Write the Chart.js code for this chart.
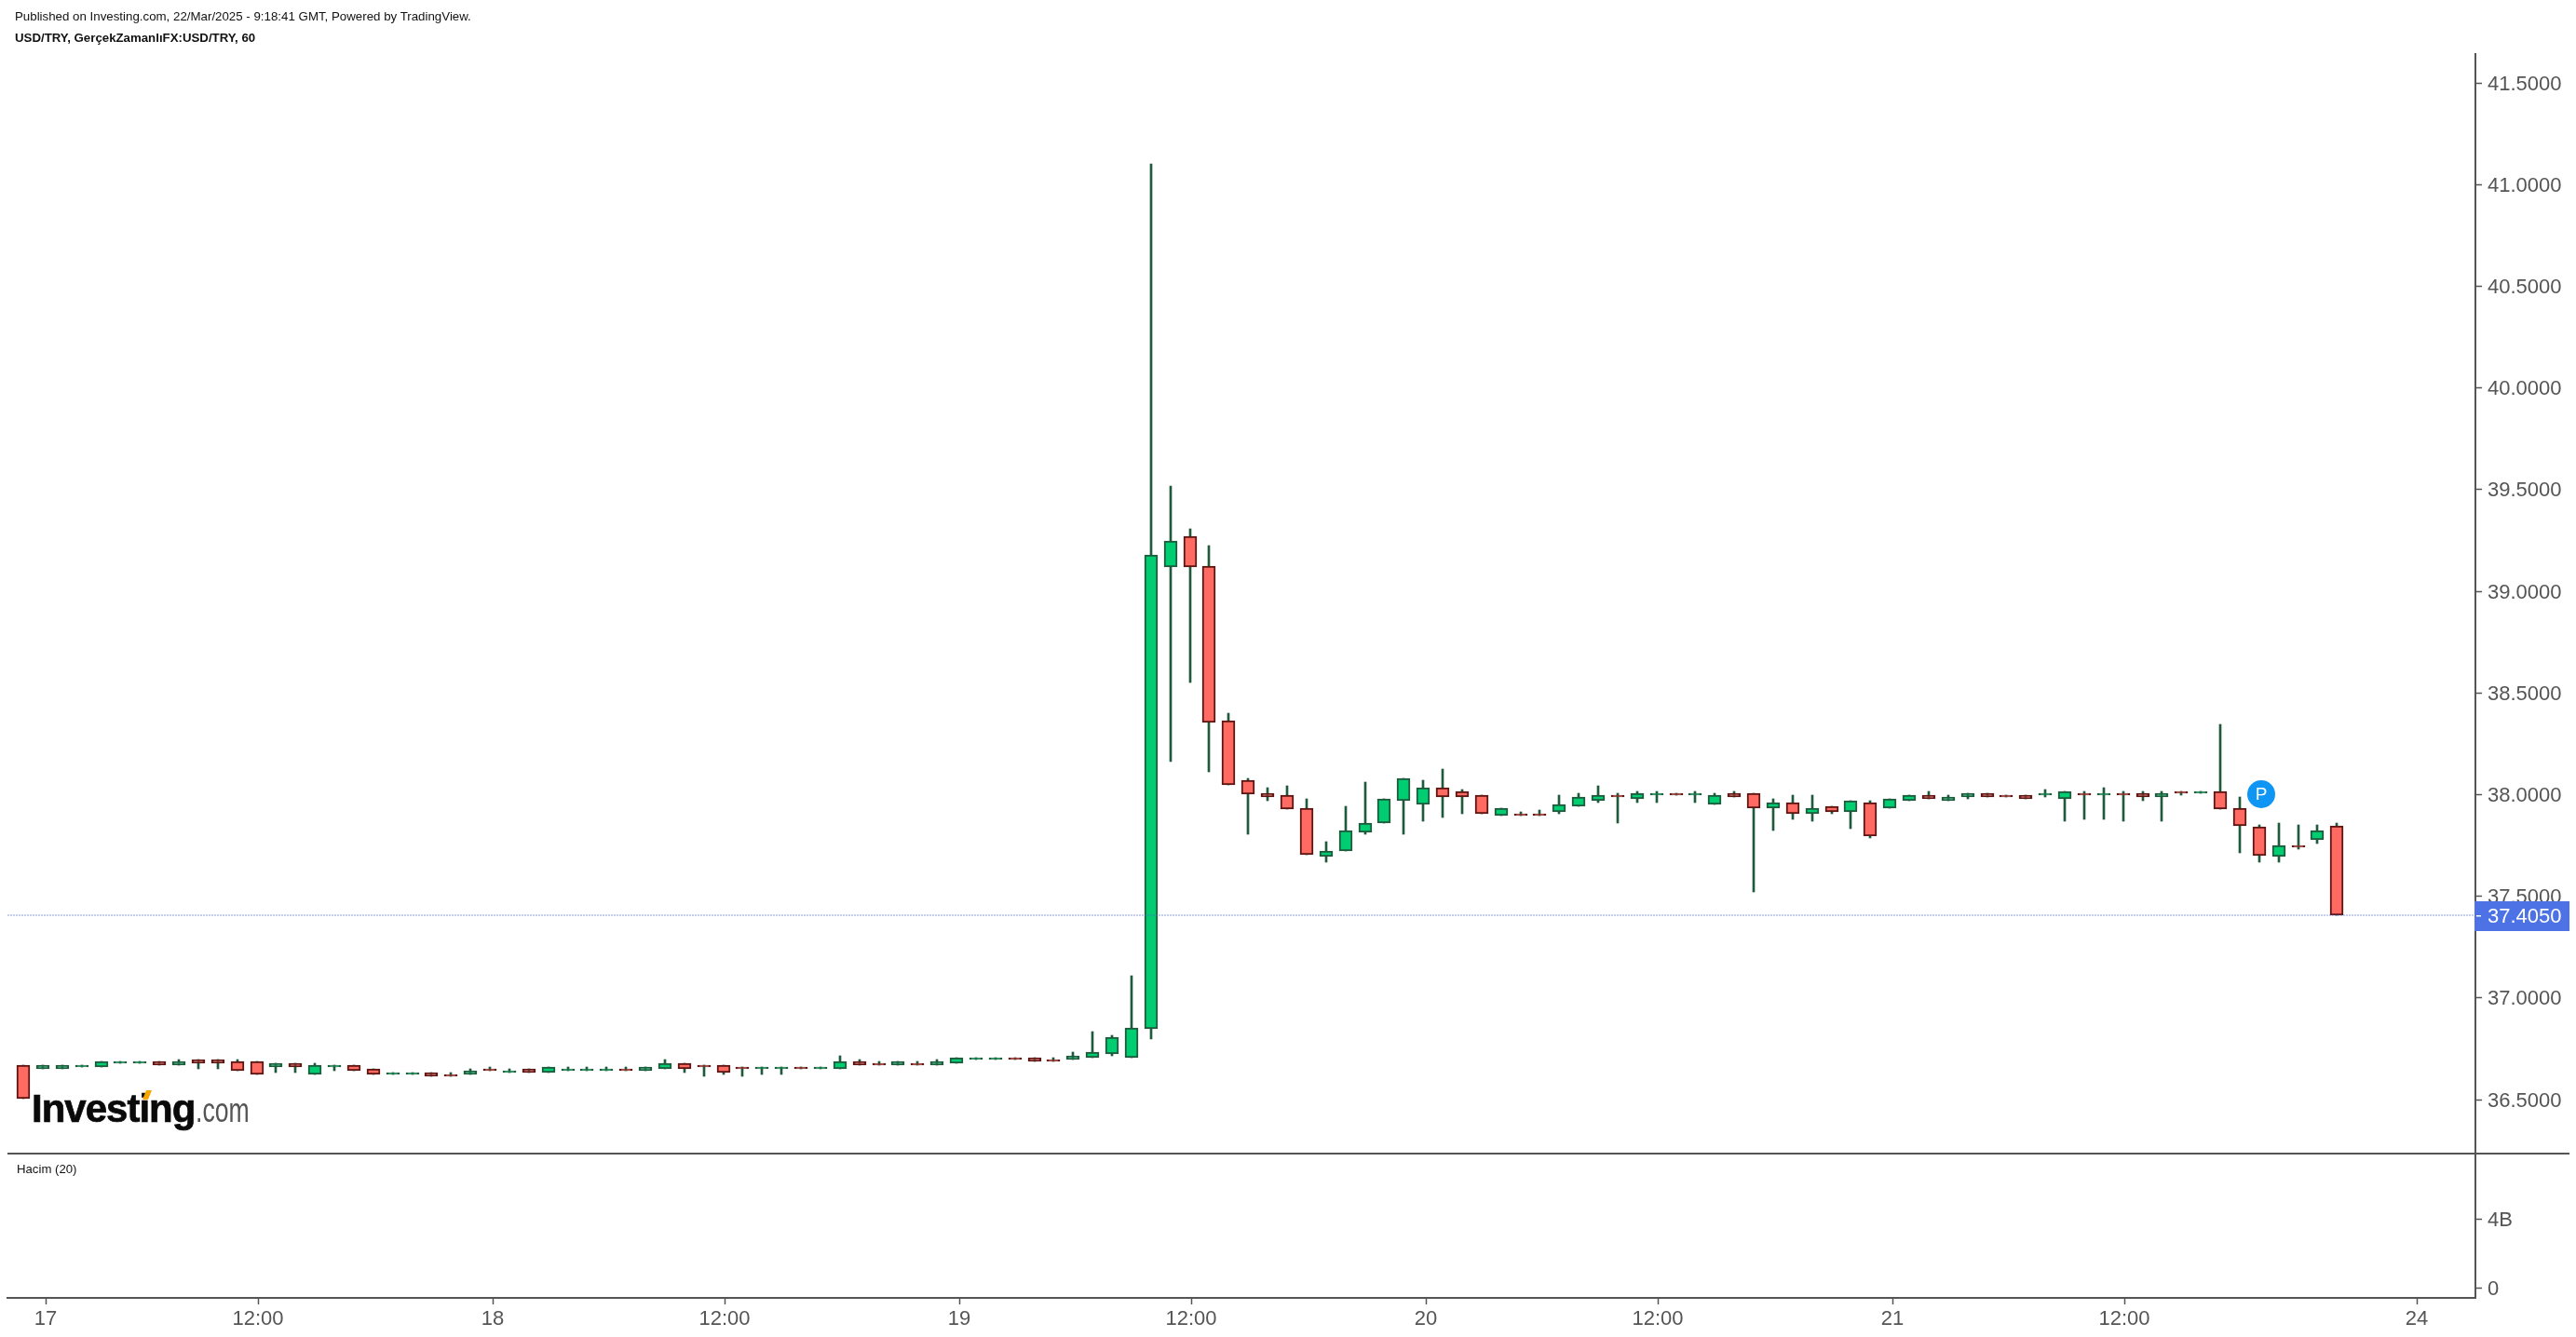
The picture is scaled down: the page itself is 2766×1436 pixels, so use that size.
<!DOCTYPE html>
<html>
<head>
<meta charset="utf-8">
<title>USD/TRY</title>
<script src="https://cdn.jsdelivr.net/npm/chart.js@4/dist/chart.umd.min.js"></script>
<style>
  html, body { margin: 0; padding: 0; background: #fff; }
  body { width: 2766px; height: 1436px; position: relative; overflow: hidden; font-family: "Liberation Sans", Arial, sans-serif; }
  #price-chart { position: absolute; left: 0; top: 0; }
  .note { position: absolute; white-space: nowrap; color: #111; }
  #published { left: 16px; top: 10px; font-size: 13.3px; line-height: 15px; }
  #symbol { left: 16px; top: 33px; font-size: 13.25px; line-height: 15px; font-weight: bold; }
  #hacim { left: 18px; top: 1248px; font-size: 13.2px; line-height: 15px; }
  #logo { position: absolute; left: 34px; top: 1166px; height: 50px; line-height: 50px; white-space: nowrap; filter: blur(0.6px); }
  #logo b { font-size: 42px; letter-spacing: -1px; color: #0a0a0a; -webkit-text-stroke: 0.7px #0a0a0a; }
  #logo span { display: inline-block; font-size: 36px; color: #555; transform: scaleX(0.74); transform-origin: left center; margin-left: 1px; }
  #spark { position: absolute; left: 155px; top: 1171px; width: 6px; height: 10px; background: #f7a400; transform: skewX(-22deg); filter: blur(0.5px); }
</style>
</head>
<body>
<canvas id="price-chart" width="2766" height="1436"></canvas>
<div class="note" id="published">Published on Investing.com, 22/Mar/2025 - 9:18:41 GMT, Powered by TradingView.</div>
<div class="note" id="symbol">USD/TRY, GerçekZamanlıFX:USD/TRY, 60</div>
<div class="note" id="hacim">Hacim (20)</div>
<div id="logo"><b>Investing</b><span>.com</span></div>
<div id="spark"></div>

<script>
"use strict";

// hourly candles
const opens = [
  36.6676,36.6493,36.6493,36.6584,36.6584,36.6767,36.6767,36.6859,36.6676,36.6951,
  36.6951,36.6859,36.6859,36.6584,36.6767,36.6218,36.6584,36.6676,36.6493,36.6218,
  36.6218,36.6310,36.6218,36.6218,36.6493,36.6310,36.6493,36.6310,36.6401,36.6401,
  36.6401,36.6493,36.6401,36.6493,36.6767,36.6676,36.6676,36.6584,36.6493,36.6493,
  36.6584,36.6493,36.6493,36.6859,36.6767,36.6676,36.6767,36.6676,36.6767,36.6951,
  36.6951,36.7042,36.7042,36.6951,36.6951,36.7042,36.7225,36.7042,36.8462,39.1172,
  39.2683,39.1218,38.3617,38.0687,38.0046,37.9954,37.9313,37.6932,37.7207,37.8123,
  37.8581,37.9679,37.9496,38.0321,38.0137,37.9954,37.8947,37.9038,37.9038,37.9130,
  37.9405,37.9679,37.9954,37.9771,37.9954,38.0046,37.9954,37.9496,38.0046,38.0046,
  37.9313,37.9588,37.9038,37.9405,37.9130,37.9588,37.9313,37.9679,37.9954,37.9679,
  37.9863,38.0046,37.9954,37.9954,37.9954,37.9771,38.0046,37.9954,38.0046,38.0046,
  37.9863,38.0137,38.0046,38.0137,37.9313,37.8397,37.6932,37.7482,37.7756,37.8443
];
const highs = [
  36.6676,36.6676,36.6676,36.6676,36.6859,36.6859,36.6859,36.6859,36.6951,36.6951,
  36.6951,36.6951,36.6859,36.6767,36.6767,36.6767,36.6676,36.6676,36.6493,36.6310,
  36.6310,36.6310,36.6310,36.6493,36.6584,36.6493,36.6493,36.6584,36.6584,36.6584,
  36.6584,36.6584,36.6584,36.6951,36.6767,36.6676,36.6676,36.6584,36.6584,36.6584,
  36.6584,36.6584,36.7134,36.6951,36.6859,36.6859,36.6859,36.6951,36.7042,36.7042,
  36.7042,36.7042,36.7042,36.7042,36.7317,36.8324,36.8141,37.1071,41.0998,39.5156,
  39.3049,39.2225,38.3984,38.0778,38.0321,38.0412,37.9771,37.7665,37.9405,38.0595,
  37.9771,38.0778,38.0687,38.1236,38.0229,37.9954,37.9313,37.9130,37.9222,37.9954,
  38.0046,38.0412,38.0046,38.0137,38.0137,38.0046,38.0137,38.0046,38.0137,38.0046,
  37.9771,37.9954,37.9954,37.9405,37.9679,37.9679,37.9771,37.9954,38.0137,37.9954,
  38.0046,38.0046,37.9954,37.9954,38.0229,38.0137,38.0137,38.0321,38.0137,38.0137,
  38.0137,38.0137,38.0137,38.3434,37.9863,37.8489,37.8581,37.8489,37.8489,37.8581
];
const lows = [
  36.5027,36.6493,36.6493,36.6584,36.6584,36.6767,36.6767,36.6676,36.6676,36.6493,
  36.6493,36.6401,36.6218,36.6310,36.6310,36.6218,36.6401,36.6401,36.6218,36.6218,
  36.6218,36.6126,36.6126,36.6218,36.6401,36.6310,36.6310,36.6310,36.6401,36.6401,
  36.6401,36.6401,36.6401,36.6493,36.6310,36.6126,36.6218,36.6126,36.6218,36.6218,
  36.6493,36.6493,36.6493,36.6676,36.6676,36.6676,36.6676,36.6676,36.6767,36.6951,
  36.6951,36.6951,36.6859,36.6859,36.6951,36.7042,36.7134,36.7042,36.7958,38.1603,
  38.5472,38.1099,38.0458,37.8031,37.9679,37.9267,37.7024,37.6658,37.7207,37.8031,
  37.8581,37.8031,37.8672,37.8855,37.9038,37.9038,37.8947,37.8947,37.8947,37.9038,
  37.9405,37.9588,37.8581,37.9588,37.9588,37.9954,37.9588,37.9496,37.9863,37.5192,
  37.8214,37.8764,37.8672,37.9038,37.8306,37.7848,37.9313,37.9679,37.9771,37.9679,
  37.9771,37.9863,37.9863,37.9771,37.9863,37.8672,37.8764,37.8764,37.8672,37.9679,
  37.8672,37.9954,38.0046,37.9267,37.7115,37.6658,37.6658,37.7299,37.7573,37.4050
];
const closes = [
  36.5027,36.6676,36.6676,36.6676,36.6859,36.6859,36.6859,36.6676,36.6859,36.6767,
  36.6767,36.6401,36.6218,36.6767,36.6584,36.6676,36.6676,36.6401,36.6218,36.6310,
  36.6310,36.6126,36.6126,36.6401,36.6401,36.6401,36.6310,36.6584,36.6493,36.6493,
  36.6493,36.6401,36.6584,36.6767,36.6493,36.6584,36.6310,36.6493,36.6584,36.6584,
  36.6493,36.6584,36.6859,36.6676,36.6676,36.6859,36.6676,36.6859,36.7042,36.7042,
  36.7042,36.6951,36.6859,36.6859,36.7134,36.7317,36.8049,36.8507,39.1767,39.2477,
  39.1172,38.3526,38.0458,38.0000,37.9863,37.9267,37.7024,37.7207,37.8214,37.8581,
  37.9771,38.0778,38.0321,37.9863,37.9863,37.9038,37.9313,37.8947,37.8947,37.9496,
  37.9863,37.9954,37.9863,38.0046,38.0046,37.9954,38.0046,37.9954,37.9863,37.9313,
  37.9588,37.9038,37.9313,37.9130,37.9679,37.7940,37.9771,37.9954,37.9771,37.9863,
  38.0046,37.9863,37.9863,37.9771,38.0046,38.0137,37.9954,38.0046,37.9954,37.9863,
  38.0046,38.0046,38.0137,37.9267,37.8443,37.6978,37.7482,37.7390,37.8214,37.4050
];

const timeTicks = [1.15,12.08,24.12,36.08,48.12,60.08,72.12,84.08,96.12,108.08,123.12];
const timeLabels = ["17","12:00","18","12:00","19","12:00","20","12:00","21","12:00","24"];
const priceTicks = [36.5,37,37.5,38,38.5,39,39.5,40,40.5,41,41.5];
const volumeTicks = [0,4];
const volumeLabels = ["0","4B"];
const lastPrice = 37.405;
const badgeCandle = 115;
const badgePrice = 38;

const TEXT = "#555555";
const AXIS = "#555555";
const FONT = { family: '"Liberation Sans", Arial, sans-serif', size: 22 };

const snap = (scale) => {
  // candles sit on whole pixels in the original
  if (scale.snapped) return;
  const original = scale.getPixelForValue.bind(scale);
  scale.getPixelForValue = (value, index) => Math.round(original(value, index));
  scale.snapped = true;
};

const candleIndex = opens.map((_, i) => i);
const isUp = (i) => closes[i] >= opens[i];

const overlays = {
  id: "overlays",
  afterDraw(chart) {
    const { ctx, scales } = chart;
    const area = chart.chartArea;

    // line between price and volume panes
    const split = scales.y.bottom;
    ctx.save();
    ctx.strokeStyle = AXIS;
    ctx.lineWidth = 2;
    ctx.beginPath();
    ctx.moveTo(area.left, split);
    ctx.lineTo(2759, split);
    ctx.stroke();

    // last price tag
    const tagY = scales.y.getPixelForValue(lastPrice);
    ctx.fillStyle = "#4c72e6";
    ctx.fillRect(area.right - 1, tagY - 15, 102, 32);
    ctx.fillStyle = "#ffffff";
    ctx.fillRect(area.right + 1, tagY, 5, 1.5);
    ctx.font = '22px "Liberation Sans", Arial, sans-serif';
    ctx.textAlign = "left";
    ctx.textBaseline = "middle";
    ctx.fillText(lastPrice.toFixed(4), area.right + 13, tagY + 2);

    // published marker
    const bx = scales.x.getPixelForValue(badgeCandle) + 2;
    const by = scales.y.getPixelForValue(badgePrice);
    ctx.fillStyle = "#0f96f5";
    ctx.beginPath();
    ctx.arc(bx, by, 15, 0, Math.PI * 2);
    ctx.fill();
    ctx.fillStyle = "#ffffff";
    ctx.font = '19px "Liberation Sans", Arial, sans-serif';
    ctx.textAlign = "center";
    ctx.fillText("P", bx, by + 1);
    ctx.restore();
  }
};

const sharedGrid = { offset: false, drawOnChartArea: false, drawTicks: true, tickLength: 7, tickWidth: 1.5, tickColor: AXIS };
const sharedBorder = { display: true, color: AXIS, width: 2 };

new Chart(document.getElementById("price-chart"), {
  data: {
    datasets: [
      {
        type: "line",
        label: "Last price",
        data: [{ x: -0.814, y: lastPrice }, { x: 126.12, y: lastPrice }],
        borderColor: "rgba(70, 90, 200, 0.4)",
        borderWidth: 1.5,
        borderDash: [2, 1],
        pointRadius: 0,
        order: 0
      },
      {
        type: "bar",
        label: "Body",
        data: candleIndex.map((i) => ({ x: i, y: [opens[i], closes[i]] })),
        backgroundColor: candleIndex.map((i) => (isUp(i) ? "#00cc72" : "#ff6a62")),
        borderColor: candleIndex.map((i) => (isUp(i) ? "#1f5a3c" : "#5c1512")),
        borderWidth: 2,
        borderSkipped: false,
        barThickness: 14,
        minBarLength: 2,
        grouped: false,
        order: 1
      },
      {
        type: "bar",
        label: "Wick",
        data: candleIndex.map((i) => ({ x: i, y: [lows[i], highs[i]] })),
        backgroundColor: "#1f5a3c",
        borderWidth: 0,
        barThickness: 2,
        grouped: false,
        order: 2
      }
    ]
  },
  options: {
    responsive: false,
    animation: false,
    devicePixelRatio: 1,
    layout: { padding: { left: 8, right: 0, top: 58, bottom: 0 } },
    plugins: { legend: { display: false }, tooltip: { enabled: false } },
    scales: {
      x: {
        type: "linear",
        offset: false,
        min: -0.814,
        max: 126.12,
        grid: sharedGrid,
        border: sharedBorder,
        afterBuildTicks(scale) {
          snap(scale);
          scale.ticks = timeTicks.map((value) => ({ value }));
        },
        afterFit(scale) { scale.height = 42; },
        ticks: {
          autoSkip: false,
          maxRotation: 0,
          padding: 3,
          color: TEXT,
          font: FONT,
          callback: (value, index) => timeLabels[index]
        }
      },
      y: {
        position: "right",
        stack: "panes",
        stackWeight: 1181,
        min: 36.2326,
        max: 41.6401,
        grid: sharedGrid,
        border: sharedBorder,
        afterBuildTicks(scale) {
          snap(scale);
          scale.ticks = priceTicks.map((value) => ({ value }));
        },
        afterFit(scale) { scale.width = 108; },
        ticks: {
          padding: 6,
          labelOffset: 2,
          color: TEXT,
          font: FONT,
          callback: (value) => Number(value).toFixed(4)
        }
      },
      volume: {
        position: "right",
        stack: "panes",
        stackWeight: 155,
        min: -0.595,
        max: 7.784,
        grid: sharedGrid,
        border: sharedBorder,
        afterBuildTicks(scale) {
          snap(scale);
          scale.ticks = volumeTicks.map((value) => ({ value }));
        },
        afterFit(scale) { scale.width = 108; },
        ticks: {
          padding: 6,
          labelOffset: 2,
          color: TEXT,
          font: FONT,
          callback: (value, index) => volumeLabels[index]
        }
      }
    }
  },
  plugins: [overlays]
});
</script>
</body>
</html>
